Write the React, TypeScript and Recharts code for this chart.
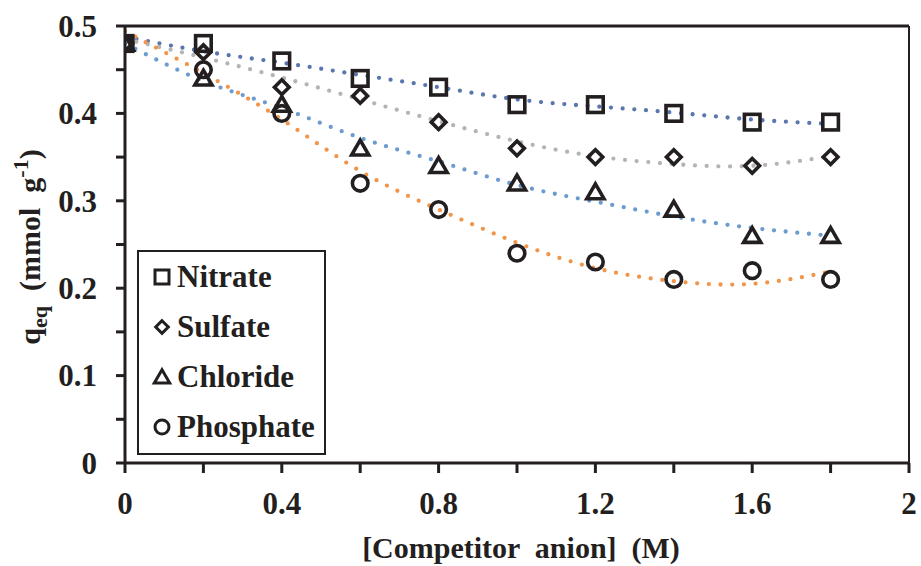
import React from 'react';
import { ComposedChart, Line, Scatter, XAxis, YAxis, ReferenceLine } from 'recharts';

// concentration of competing anion (M)
const conc = [0, 0.2, 0.4, 0.6, 0.8, 1.0, 1.2, 1.4, 1.6, 1.8];

// measured q_eq (mmol/g)
const nitrate = [0.48, 0.48, 0.46, 0.44, 0.43, 0.41, 0.41, 0.40, 0.39, 0.39];
const sulfate = [0.48, 0.47, 0.43, 0.42, 0.39, 0.36, 0.35, 0.35, 0.34, 0.35];
const chloride = [0.48, 0.44, 0.41, 0.36, 0.34, 0.32, 0.31, 0.29, 0.26, 0.26];
const phosphate = [0.48, 0.45, 0.40, 0.32, 0.29, 0.24, 0.23, 0.21, 0.22, 0.21];

// trendline values
const nitrateFit = [0.488, 0.471, 0.458, 0.444, 0.430, 0.416, 0.408, 0.401, 0.393, 0.388];
const sulfateFit = [0.485, 0.464, 0.441, 0.416, 0.391, 0.368, 0.351, 0.342, 0.340, 0.351];
const chlorideFit = [0.480, 0.437, 0.406, 0.372, 0.345, 0.318, 0.299, 0.282, 0.269, 0.260];
const phosphateFit = [0.494, 0.446, 0.393, 0.334, 0.290, 0.252, 0.223, 0.208, 0.205, 0.219];

const xTicks = [0, 0.2, 0.4, 0.6, 0.8, 1.0, 1.2, 1.4, 1.6, 1.8, 2.0];
const yTicks = [0, 0.05, 0.1, 0.15, 0.2, 0.25, 0.3, 0.35, 0.4, 0.45, 0.5];

const series = [
  { key: 'nitrate', name: 'Nitrate', shape: 'square', color: '#5a76ae' },
  { key: 'sulfate', name: 'Sulfate', shape: 'diamond', color: '#b4b4b4' },
  { key: 'chloride', name: 'Chloride', shape: 'triangle', color: '#6b9bd1' },
  { key: 'phosphate', name: 'Phosphate', shape: 'circle', color: '#f0954a' },
];

const rows = conc.map((x, i) => ({
  x,
  nitrate: nitrate[i],
  sulfate: sulfate[i],
  chloride: chloride[i],
  phosphate: phosphate[i],
  nitrateFit: nitrateFit[i],
  sulfateFit: sulfateFit[i],
  chlorideFit: chlorideFit[i],
  phosphateFit: phosphateFit[i],
}));

const FONT = '"Liberation Serif", "Times New Roman", serif';
const INK = '#231f20';

const Marker = ({ kind, cx, cy, s, w }: { kind: string; cx: number; cy: number; s: number; w: number }) => {
  if (kind === 'square')
    return <rect x={cx - s} y={cy - s} width={2 * s} height={2 * s} fill="none" stroke={INK} strokeWidth={w} />;
  if (kind === 'diamond')
    return (
      <polygon
        points={`${cx},${cy - s * 1.05} ${cx + s * 1.05},${cy} ${cx},${cy + s * 1.05} ${cx - s * 1.05},${cy}`}
        fill="none" stroke={INK} strokeWidth={w} strokeLinejoin="miter"
      />
    );
  if (kind === 'triangle')
    return (
      <polygon
        points={`${cx},${cy - s * 1.05} ${cx + s * 1.1},${cy + s * 0.85} ${cx - s * 1.1},${cy + s * 0.85}`}
        fill="none" stroke={INK} strokeWidth={w} strokeLinejoin="miter"
      />
    );
  return <circle cx={cx} cy={cy} r={s} fill="none" stroke={INK} strokeWidth={w} />;
};

const shapeFor = (kind: string) => (props: any) => {
  if (props.cx == null || props.cy == null) return <g />;
  return <Marker kind={kind} cx={props.cx} cy={props.cy} s={kind === 'diamond' ? 7 : 7.8} w={3.6} />;
};

const fmt = (v: number) => {
  const r = Math.round(v * 100) / 100;
  return r === 0 ? '0' : String(r);
};

const XTick = (props: any) => {
  const { x, y, payload } = props;
  const v = payload.value;
  if (Math.round(v * 10) % 4 !== 0) return <g />;
  return (
    <text x={x} y={y + 41} textAnchor="middle" fontFamily={FONT} fontWeight="bold" fontSize={31} fill={INK}>
      {fmt(v)}
    </text>
  );
};

const YTick = (props: any) => {
  const { x, y, payload } = props;
  const v = payload.value;
  if (Math.round(v * 100) % 10 !== 0) return <g />;
  return (
    <text x={x - 19} y={y} dy="0.35em" textAnchor="end" fontFamily={FONT} fontWeight="bold" fontSize={31} fill={INK}>
      {fmt(v)}
    </text>
  );
};

const YLabel = () => (
  <text
    transform="translate(40,247) rotate(-90)"
    textAnchor="middle"
    fontFamily={FONT}
    fontWeight="bold"
    fontSize={30}
    fill={INK}
    style={{ whiteSpace: 'pre' }}
  >
    <tspan>q</tspan>
    <tspan dy={7} fontSize={22}>eq</tspan>
    <tspan dy={-7}>{'  (mmol  g'}</tspan>
    <tspan dy={-12} fontSize={22}>-1</tspan>
    <tspan dy={12}>)</tspan>
  </text>
);

const XLabel = () => (
  <text x={521} y={558} textAnchor="middle" fontFamily={FONT} fontWeight="bold" fontSize={30} fill={INK} style={{ whiteSpace: 'pre' }}>
    {'[Competitor  anion]  (M)'}
  </text>
);

const LegendBox = () => (
  <div
    style={{
      position: 'absolute',
      left: 137,
      top: 250,
      width: 189,
      height: 205,
      boxSizing: 'border-box',
      border: `2.5px solid ${INK}`,
      background: '#fff',
      fontFamily: FONT,
      fontWeight: 'bold',
      fontSize: 31,
      color: INK,
    }}
  >
    {series.map((s) => (
      <div key={s.key} style={{ height: 50, lineHeight: '50px', display: 'flex', alignItems: 'center' }}>
        <svg width={36} height={50} style={{ flex: 'none' }}>
          <Marker kind={s.shape} cx={23} cy={25} s={s.shape === 'diamond' ? 6 : 7} w={3} />
        </svg>
        <span style={{ marginLeft: 2 }}>{s.name}</span>
      </div>
    ))}
  </div>
);

export default function App() {
  return (
    <div style={{ position: 'absolute', left: 0, top: 0, width: 921, height: 566, background: '#fff' }}>
      <ComposedChart width={921} height={566} data={rows} margin={{ top: 26, right: 12, bottom: 73, left: 55 }}>
        <XAxis
          dataKey="x"
          type="number"
          domain={[0, 2]}
          ticks={xTicks}
          interval={0}
          height={30}
          tickSize={10}
          tickMargin={0}
          tick={<XTick />}
          axisLine={{ stroke: INK, strokeWidth: 3 }}
          tickLine={{ stroke: INK, strokeWidth: 3 }}
          label={{ content: () => <XLabel /> }}
          allowDataOverflow
        />
        <YAxis
          type="number"
          domain={[0, 0.5]}
          ticks={yTicks}
          interval={0}
          width={70}
          tickSize={9}
          tickMargin={0}
          tick={<YTick />}
          axisLine={{ stroke: INK, strokeWidth: 3 }}
          tickLine={{ stroke: INK, strokeWidth: 3 }}
          label={{ content: () => <YLabel /> }}
          allowDataOverflow
        />
        <ReferenceLine y={0.5} stroke={INK} strokeWidth={3} ifOverflow="visible" />
        <ReferenceLine x={2} stroke={INK} strokeWidth={2} ifOverflow="visible" />
        {series.map((s) => (
          <Scatter
            key={s.key}
            dataKey={s.key}
            name={s.name}
            shape={shapeFor(s.shape)}
            isAnimationActive={false}
          />
        ))}
        {series.map((s) => (
          <Line
            key={s.key + 'Fit'}
            dataKey={s.key + 'Fit'}
            type="natural"
            stroke={s.color}
            strokeWidth={4.3}
            strokeDasharray="0 11.7"
            strokeLinecap="round"
            dot={false}
            activeDot={false}
            legendType="none"
            isAnimationActive={false}
          />
        ))}
      </ComposedChart>
      <LegendBox />
    </div>
  );
}
